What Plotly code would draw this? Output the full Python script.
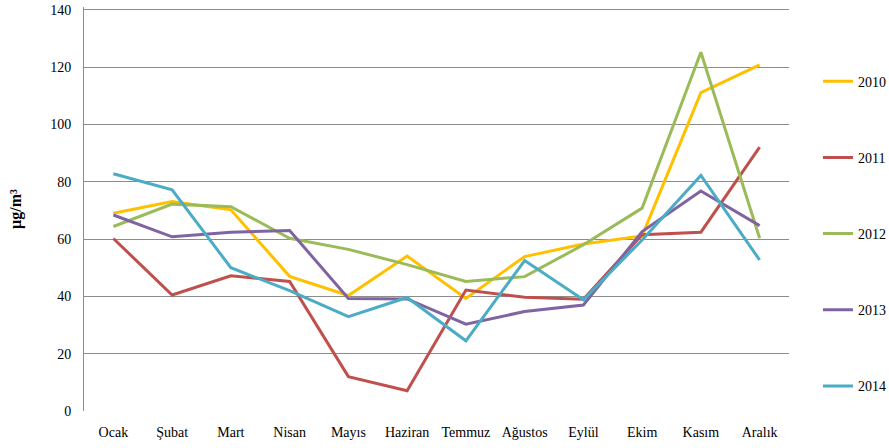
import plotly.graph_objects as go

months = ["Ocak", "Şubat", "Mart", "Nisan", "Mayıs", "Haziran", "Temmuz",
          "Ağustos", "Eylül", "Ekim", "Kasım", "Aralık"]

y2010 = [69.0, 73.1, 70.2, 47.0, 40.3, 54.1, 39.3, 53.9, 58.3, 61.1, 111.1, 120.8]
y2011 = [60.2, 40.5, 47.2, 45.2, 12.0, 7.1, 42.2, 39.7, 39.0, 61.5, 62.4, 92.1]
y2012 = [64.4, 72.2, 71.3, 60.3, 56.4, 51.1, 45.2, 46.9, 58.0, 70.8, 125.2, 60.3]
y2013 = [68.4, 60.8, 62.4, 63.0, 39.3, 39.1, 30.3, 34.7, 37.0, 62.6, 76.8, 64.7]
y2014 = [82.8, 77.2, 50.0, 42.0, 32.9, 39.6, 24.5, 52.5, 38.8, 59.7, 82.2, 52.7]

series = [("2010", y2010, "#FFC000"), ("2011", y2011, "#C0504D"),
          ("2012", y2012, "#9BBB59"), ("2013", y2013, "#8064A2"),
          ("2014", y2014, "#4BACC6")]

yticks = [0, 20, 40, 60, 80, 100, 120, 140]

fig = go.Figure()
for name, vals, col in series:
    fig.add_trace(go.Scatter(x=months, y=vals, name=name, mode="lines",
                             line=dict(color=col, width=3),
                             legendgroup=name))

serif = "Liberation Serif"
fig.update_layout(
    width=889, height=448,
    margin=dict(l=84, r=100, t=7, b=37),
    paper_bgcolor="white", plot_bgcolor="white",
    font=dict(family=serif, size=14, color="#000"),
    showlegend=True,
    legend=dict(xref="container", x=0.9201, xanchor="left",
                y=0.855, yanchor="top",
                tracegroupgap=55, font=dict(size=14, family=serif),
                bgcolor="rgba(0,0,0,0)", itemwidth=30),
    xaxis=dict(showgrid=False, showline=False, ticks="", automargin=False,
               range=[-0.5, 11.5], ticklabelstandoff=11,
               tickfont=dict(size=14, family=serif)),
    yaxis=dict(range=[0, 141], tickvals=yticks, showgrid=True,
               gridcolor="#8c8c8c", gridwidth=1, showline=True,
               linecolor="#8c8c8c", linewidth=1, zeroline=False, ticks="",
               automargin=False, ticklabelstandoff=9,
               tickfont=dict(size=14, family=serif),
               title=dict(text="<b>µg/m³</b>", font=dict(size=16, family=serif),
                          standoff=24)),
)

fig.write_html("out.html", config={"displayModeBar": False},
               post_script="document.body.style.margin='0';document.body.style.overflow='hidden';")
